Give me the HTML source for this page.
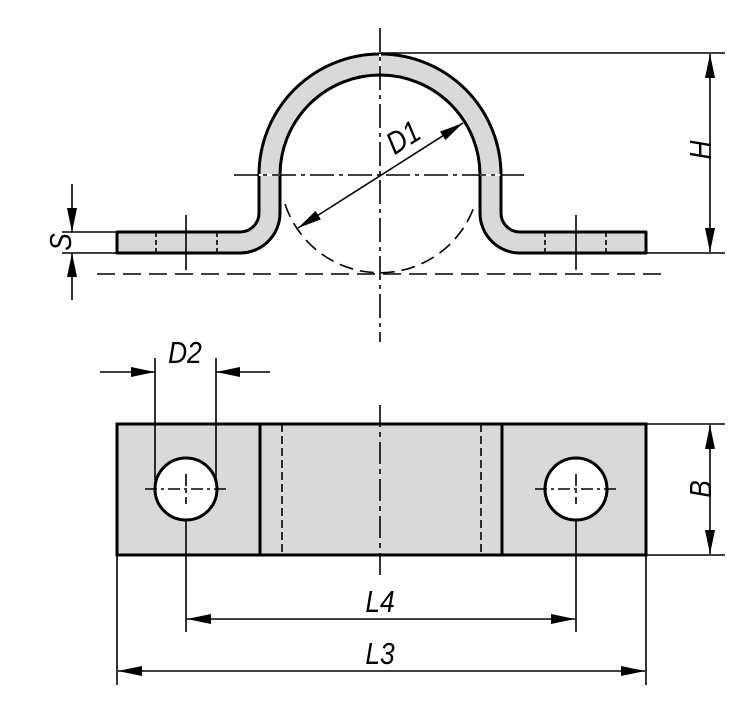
<!DOCTYPE html>
<html><head><meta charset="utf-8"><style>
html,body{margin:0;padding:0;background:#fff;}
svg{display:block}
text{font-family:"Liberation Sans",sans-serif;font-style:italic;font-size:31px;fill:#000}
</style></head><body>
<svg width="750" height="711" viewBox="0 0 750 711" xmlns="http://www.w3.org/2000/svg">
<defs>
<marker id="a" viewBox="0 0 24 10" refX="24" refY="5" markerWidth="24" markerHeight="10" markerUnits="userSpaceOnUse" orient="auto-start-reverse">
<path d="M0,0 L24,5 L0,10 Z" fill="#000"/></marker>
</defs>
<!-- Top view -->
<path d="M117,232 H240 A19,19 0 0 0 259,213 V175 A121,121 0 0 1 501,175 V213 A19,19 0 0 0 520,232 H646 V253 H520 A40,40 0 0 1 480,213 V175 A100,100 0 0 0 280,175 V213 A40,40 0 0 1 240,253 H117 Z" fill="#d9d9d9" stroke="#000" stroke-width="3" stroke-linejoin="round"/>
<g stroke="#fff" stroke-width="2"><line x1="259" y1="175" x2="280" y2="175"/><line x1="480" y1="175" x2="501" y2="175"/><line x1="380" y1="54" x2="380" y2="73"/></g>
<g stroke="#000" stroke-width="1.6" fill="none">
<path d="M285,204 A100,100 0 0 0 475,204" stroke-dasharray="14,7"/>
<line x1="97" y1="274" x2="668" y2="274" stroke-dasharray="18,8"/>
<line x1="380" y1="28" x2="380" y2="342" stroke-dasharray="24,5,4,5"/>
<line x1="234" y1="175" x2="528" y2="175" stroke-dasharray="24,5,4,5"/>
<line x1="156" y1="232" x2="156" y2="253" stroke-dasharray="5,3"/>
<line x1="217" y1="232" x2="217" y2="253" stroke-dasharray="5,3"/>
<line x1="186" y1="215" x2="186" y2="270"/>
<line x1="545" y1="232" x2="545" y2="253" stroke-dasharray="5,3"/>
<line x1="606" y1="232" x2="606" y2="253" stroke-dasharray="5,3"/>
<line x1="576" y1="215" x2="576" y2="270"/>
<line x1="298" y1="228" x2="463" y2="123" marker-start="url(#a)" marker-end="url(#a)"/>
<line x1="380" y1="53" x2="725" y2="53"/>
<line x1="646" y1="253" x2="725" y2="253"/>
<line x1="710" y1="54" x2="710" y2="252" marker-start="url(#a)" marker-end="url(#a)"/>
<line x1="62" y1="232" x2="117" y2="232"/>
<line x1="62" y1="253" x2="117" y2="253"/>
<line x1="72" y1="184" x2="72" y2="232" marker-end="url(#a)"/>
<line x1="72" y1="300" x2="72" y2="253" marker-end="url(#a)"/>
</g>
<text text-anchor="middle" transform="translate(403,137) rotate(-32) scale(0.85,1) translate(0,11)">D1</text>
<text text-anchor="middle" transform="translate(700,150) rotate(-90) scale(0.85,1) translate(0,11)">H</text>
<text text-anchor="middle" transform="translate(60,242) rotate(-90) scale(0.85,1) translate(0,11)">S</text>
<!-- Bottom view -->
<rect x="117" y="424" width="529" height="131" fill="#d9d9d9" stroke="#000" stroke-width="3"/>
<g stroke="#000" stroke-width="3"><line x1="260" y1="424" x2="260" y2="555"/><line x1="502" y1="424" x2="502" y2="555"/></g>
<circle cx="186" cy="489" r="31" fill="#fff" stroke="#000" stroke-width="3"/>
<circle cx="576" cy="489" r="31" fill="#fff" stroke="#000" stroke-width="3"/>
<g stroke="#000" stroke-width="1.6" fill="none">
<line x1="282" y1="424" x2="282" y2="555" stroke-dasharray="8,4"/>
<line x1="481" y1="424" x2="481" y2="555" stroke-dasharray="8,4"/>
<line x1="380" y1="405" x2="380" y2="575" stroke-dasharray="22,5,5,5"/>
<line x1="145" y1="489" x2="227" y2="489" stroke-dasharray="12,4,3,4"/>
<line x1="535" y1="489" x2="617" y2="489" stroke-dasharray="12,4,3,4"/>
<line x1="186" y1="474" x2="186" y2="504" stroke-dasharray="12,4,3,4"/>
<line x1="576" y1="474" x2="576" y2="504" stroke-dasharray="12,4,3,4"/>
<line x1="186" y1="520" x2="186" y2="632"/>
<line x1="576" y1="520" x2="576" y2="632"/>
<line x1="155" y1="358" x2="155" y2="485"/>
<line x1="216" y1="358" x2="216" y2="485"/>
<line x1="100" y1="372" x2="155" y2="372" marker-end="url(#a)"/>
<line x1="270" y1="372" x2="216" y2="372" marker-end="url(#a)"/>
<line x1="646" y1="424" x2="725" y2="424"/>
<line x1="646" y1="555" x2="725" y2="555"/>
<line x1="710" y1="425" x2="710" y2="554" marker-start="url(#a)" marker-end="url(#a)"/>
<line x1="117" y1="555" x2="117" y2="685"/>
<line x1="646" y1="555" x2="646" y2="685"/>
<line x1="187" y1="619" x2="575" y2="619" marker-start="url(#a)" marker-end="url(#a)"/>
<line x1="118" y1="671" x2="645" y2="671" marker-start="url(#a)" marker-end="url(#a)"/>
</g>
<text text-anchor="middle" transform="translate(185,363) scale(0.85,1)">D2</text>
<text text-anchor="middle" transform="translate(700,489) rotate(-90) scale(0.85,1) translate(0,11)">B</text>
<text text-anchor="middle" transform="translate(380,612) scale(0.85,1)">L4</text>
<text text-anchor="middle" transform="translate(380,664) scale(0.85,1)">L3</text>
</svg>
</body></html>
